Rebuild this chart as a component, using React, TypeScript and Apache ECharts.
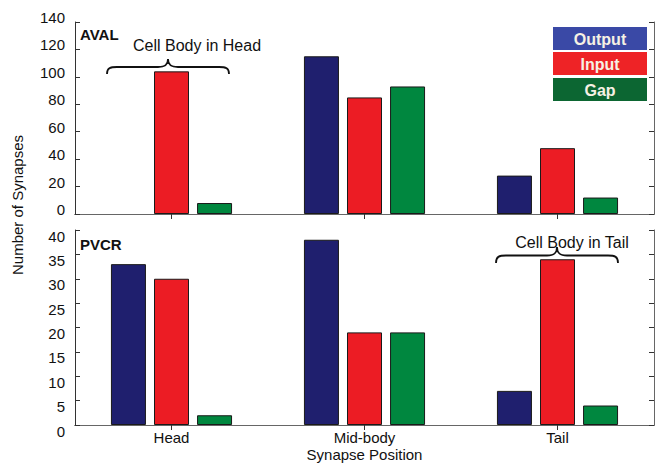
import React, { useEffect, useRef } from "react";
import * as echarts from "echarts";

const categories = ["Head", "Mid-body", "Tail"];
const seriesNames = ["Output", "Input", "Gap"];
const avalOutput = [0, 115, 28];
const avalInput = [104, 85, 48];
const avalGap = [8, 93, 12];
const pvcrOutput = [33, 38, 7];
const pvcrInput = [30, 19, 34];
const pvcrGap = [2, 19, 4];
const avalTicks = { min: 0, max: 140, interval: 20 };
const pvcrTicks = { min: 0, max: 40, interval: 5 };

const barColors = ["#1f1f6e", "#ec1c24", "#00873f"];
const legendColors = ["#3a49a6", "#ee2326", "#0c6632"];
const FONT = "'Liberation Sans', Arial, sans-serif";

const BRACE =
  "M0 15 C0 9 3 8 10 8 L51 8 C58 8 61 6 61 0 C61 6 64 8 71 8 L112 8 C119 8 122 9 122 15";

let registered = false;

export default function App() {
  const ref = useRef<HTMLDivElement>(null);
  useEffect(() => {
    if (!registered) {
      echarts.graphic.registerShape("brace", echarts.graphic.extendPath(BRACE, {}));
      registered = true;
    }
    const chart = echarts.init(ref.current!, null, { renderer: "svg" });
    const axisLine = { show: true, lineStyle: { color: "#333", width: 1 } };
    const tick = { show: true, inside: true, length: 5, lineStyle: { color: "#333" } };
    const grids = [
      { left: 75, top: 22, width: 579, height: 192 },
      { left: 75, top: 230, width: 579, height: 195 },
    ];
    const xAxes: any[] = [];
    const yAxes: any[] = [];
    [0, 1].forEach((g) => {
      xAxes.push({
        type: "category",
        gridIndex: g,
        data: categories,
        position: "bottom",
        axisLine,
        axisTick: { ...tick, alignWithLabel: true },
        axisLabel: g === 1
          ? { show: true, color: "#111", fontSize: 15, fontFamily: FONT, margin: 5 }
          : { show: false },
        name: g === 1 ? "Synapse Position" : "",
        nameLocation: "middle",
        nameGap: 22,
        nameTextStyle: { color: "#111", fontSize: 15, fontFamily: FONT },
      });
      xAxes.push({
        type: "category",
        gridIndex: g,
        data: categories,
        position: "top",
        axisLine: { show: true, lineStyle: { color: "#666", width: 1 } },
        axisTick: { ...tick, alignWithLabel: true },
        axisLabel: { show: false },
      });
      const t = g === 0 ? avalTicks : pvcrTicks;
      yAxes.push({
        type: "value",
        gridIndex: g,
        position: "left",
        min: t.min,
        max: t.max,
        interval: t.interval,
        axisLine,
        axisTick: tick,
        splitLine: { show: false },
        axisLabel: {
          color: "#111",
          fontSize: 15,
          fontFamily: FONT,
          margin: 10,
          verticalAlign: g === 0 ? "bottom" : "top",
          lineHeight: g === 0 ? 9 : 12,
        },
      });
      yAxes.push({
        type: "value",
        gridIndex: g,
        position: "right",
        min: t.min,
        max: t.max,
        interval: t.interval,
        axisLine: { show: true, lineStyle: { color: "#666", width: 1 } },
        axisTick: tick,
        splitLine: { show: false },
        axisLabel: { show: false },
      });
    });
    const panels = [
      [avalOutput, avalInput, avalGap],
      [pvcrOutput, pvcrInput, pvcrGap],
    ];
    const series: any[] = [];
    panels.forEach((vals, g) => {
      vals.forEach((data, i) => {
        series.push({
          type: "bar",
          name: seriesNames[i],
          xAxisIndex: g * 2,
          yAxisIndex: g * 2,
          data: data.map((v) =>
            v === 0 ? { value: v, itemStyle: { borderWidth: 0, opacity: 0 } } : v
          ),
          barWidth: 35,
          barGap: "23%",
          itemStyle: { color: barColors[i], borderColor: "#1a1a1a", borderWidth: 1 },
        });
      });
    });
    const legendItems = seriesNames.map((n, i) => ({
      type: "group",
      x: 553,
      y: [27, 52, 78][i],
      children: [
        { type: "rect", shape: { x: 0, y: 0, width: 94, height: 23 }, style: { fill: legendColors[i] } },
        {
          type: "text",
          x: 47,
          y: 12,
          style: {
            text: n,
            fill: "#f6f1e4",
            font: `bold 16px ${FONT}`,
            textAlign: "center",
            textVerticalAlign: "middle",
          },
        },
      ],
    }));
    const txt = (text: string, x: number, y: number, size: number, bold = false, align = "center") => ({
      type: "text",
      x,
      y,
      style: {
        text,
        fill: "#111",
        font: `${bold ? "bold " : ""}${size}px ${FONT}`,
        textAlign: align,
        textVerticalAlign: "middle",
      },
    });
    chart.setOption({
      animation: false,
      backgroundColor: "#fff",
      grid: grids.map((g) => ({ ...g, show: false })),
      xAxis: xAxes,
      yAxis: yAxes,
      series,
      graphic: [
        ...legendItems,
        txt("AVAL", 80, 34, 15, true, "left"),
        txt("PVCR", 80, 244, 15, true, "left"),
        txt("Cell Body in Head", 197, 45, 16),
        txt("Cell Body in Tail", 572, 242, 16),
        {
          type: "text",
          x: 17,
          y: 205,
          rotation: Math.PI / 2,
          style: {
            text: "Number of Synapses",
            fill: "#111",
            font: `15px ${FONT}`,
            textAlign: "center",
            textVerticalAlign: "middle",
          },
        },
        {
          type: "brace",
          x: 107,
          y: 59,
          scaleX: 1,
          scaleY: 1,
          style: { fill: "none", stroke: "#111", lineWidth: 1.8 },
        },
        {
          type: "brace",
          x: 496,
          y: 247,
          scaleX: 1,
          scaleY: 16 / 15,
          style: { fill: "none", stroke: "#111", lineWidth: 1.8 },
        },
      ],
    });
    return () => chart.dispose();
  }, []);
  return (
    <div
      ref={ref}
      style={{ position: "fixed", left: 0, top: 0, width: 655, height: 464 }}
    />
  );
}
